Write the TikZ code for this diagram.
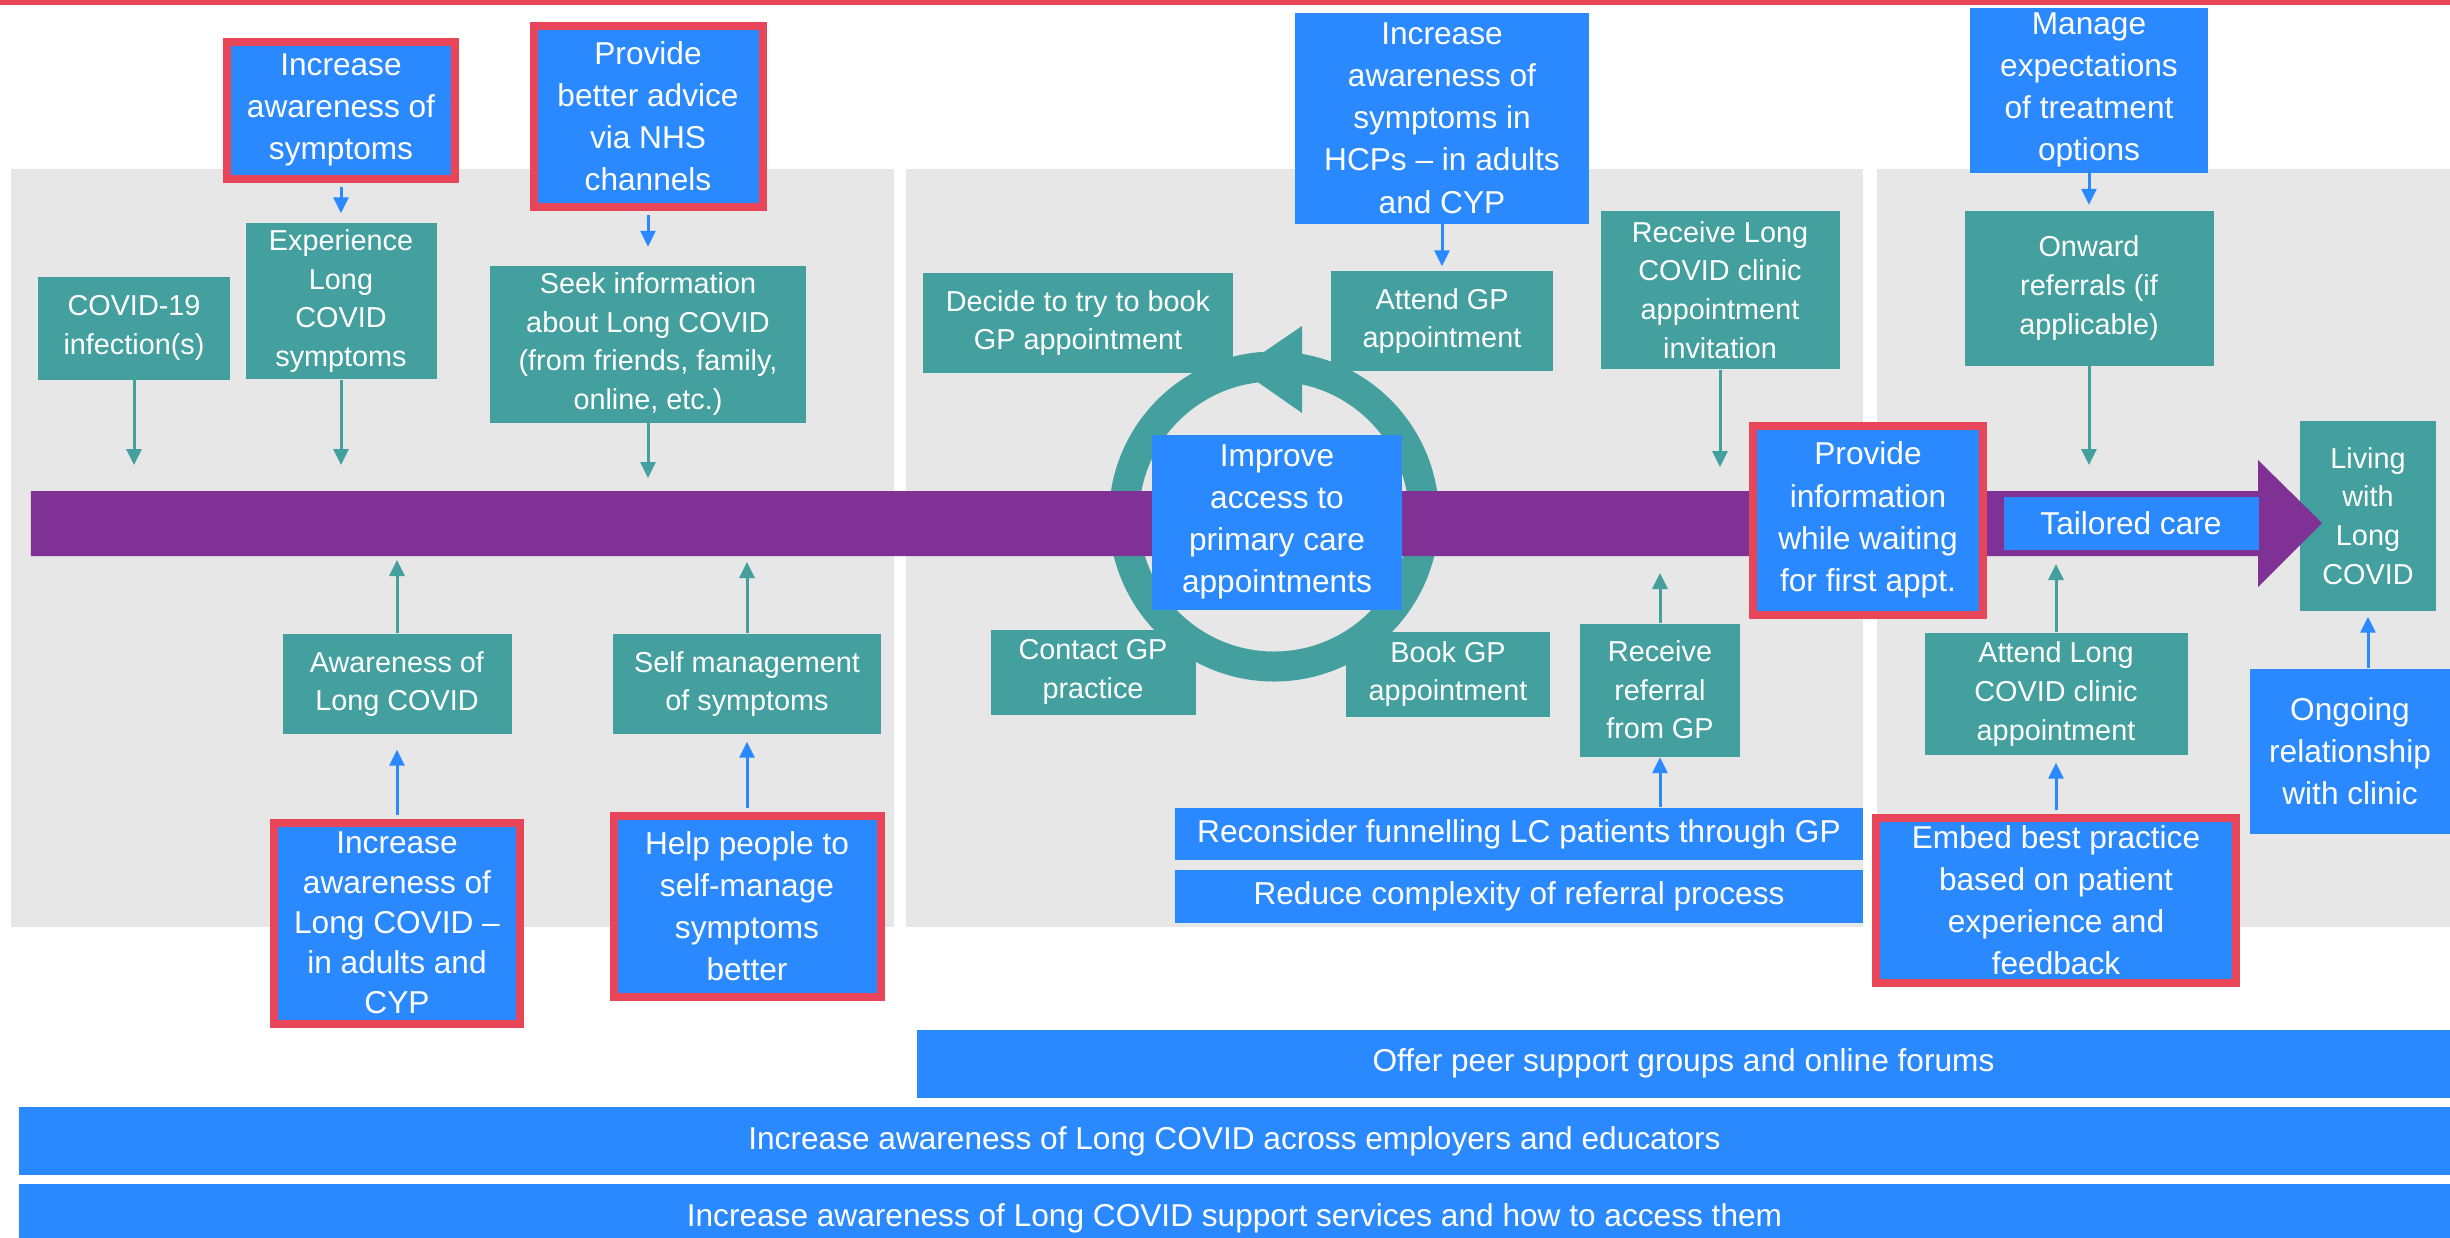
\documentclass[tikz,border=0pt]{standalone}
\usepackage{fontspec}
\setmainfont{Liberation Sans}
\usepackage{tikz}
\usetikzlibrary{arrows.meta, positioning, calc}
\definecolor{panelfill}{RGB}{231,231,231}
\definecolor{stagefill}{RGB}{67,160,158}
\definecolor{actfill}{RGB}{43,137,255}
\definecolor{keyline}{RGB}{232,70,88}
\definecolor{pathfill}{RGB}{128,49,150}

\begin{document}
\begin{tikzpicture}[
  stagebox/.style={fill=stagefill, text=white, inner sep=0pt, align=center,
                   font=\fontsize{8.2}{11}\selectfont},
  actbox/.style={fill=actfill, text=white, inner sep=0pt, align=center,
                 font=\fontsize{9}{12}\selectfont},
  keybox/.style={actbox, draw=keyline, line width=0.08cm},
  panelbg/.style={fill=panelfill},
  stagearrow/.style={-{Triangle[length=0.16cm, width=0.15cm]},
                     line width=0.03cm, draw=stagefill},
  actarrow/.style={-{Triangle[length=0.16cm, width=0.15cm]},
                   line width=0.03cm, draw=actfill},
]
\clip (0,0) rectangle (24.5,-12.37);

% =================================================================
%  BACKGROUND — TOP RULE AND THREE STAGE PANELS
% =================================================================
\fill[keyline] (0,0) rectangle (24.5,-0.05);
\fill[panelbg] (0.11,-1.69) rectangle (8.94,-9.27);
\fill[panelbg] (9.06,-1.69) rectangle (18.63,-9.27);
\fill[panelbg] (18.77,-1.69) rectangle (24.5,-9.27);

% primary care cycle
\draw[stagefill, line width=0.30cm] (12.74,-5.165) circle (1.50);
\fill[stagefill] (13.02,-3.26) -- (13.02,-4.13) -- (12.39,-3.69) -- cycle;

\node[stagebox, minimum width=1.36cm, minimum height=1.90cm] (living)
  at (23.68,-5.16) {Living\\with\\Long\\COVID};

% =================================================================
%  PATIENT JOURNEY BAND
% =================================================================
\fill[pathfill] (0.31,-4.91) -- (22.58,-4.91) -- (22.58,-4.60)
  -- (23.22,-5.23) -- (22.58,-5.87) -- (22.58,-5.56) -- (0.31,-5.56) -- cycle;
\coordinate (bandtop) at (0.31,-4.91);
\coordinate (bandbot) at (0.31,-5.56);

% =================================================================
%  STAGE 1 — BEFORE PRIMARY CARE
% =================================================================
\node[keybox, minimum width=2.28cm, minimum height=1.37cm] (sympt)
  at (3.41,-1.10) {Increase\\awareness of\\symptoms};
\node[keybox, minimum width=2.29cm, minimum height=1.81cm] (nhs)
  at (6.48,-1.16) {Provide\\better advice\\via NHS\\channels};

\node[stagebox, minimum width=1.92cm, minimum height=1.03cm] (infection)
  at (1.34,-3.28) {COVID-19\\infection(s)};
\node[stagebox, minimum width=1.91cm, minimum height=1.56cm] (experience)
  at (3.41,-3.01) {Experience\\Long\\COVID\\symptoms};
\node[stagebox, minimum width=3.16cm, minimum height=1.57cm] (seekinfo)
  at (6.48,-3.44) {Seek information\\about Long COVID\\(from friends, family,\\online, etc.)};

\node[stagebox, minimum width=2.29cm, minimum height=1.00cm] (awareLC)
  at (3.97,-6.84) {Awareness of\\Long COVID};
\node[stagebox, minimum width=2.68cm, minimum height=1.00cm] (selfmgmt)
  at (7.47,-6.84) {Self management\\of symptoms};

\node[keybox, minimum width=2.46cm, minimum height=2.01cm,
      font=\fontsize{9}{11.4}\selectfont] (incLC)
  at (3.97,-9.23) {Increase\\awareness of\\Long COVID --\\in adults and\\CYP};
\node[keybox, minimum width=2.67cm, minimum height=1.81cm] (helpself)
  at (7.47,-9.06) {Help people to\\self-manage\\symptoms\\better};

% =================================================================
%  STAGE 2 — PRIMARY CARE
% =================================================================
\node[actbox, minimum width=2.94cm, minimum height=2.11cm] (hcp)
  at (14.42,-1.18) {Increase\\awareness of\\symptoms in\\HCPs -- in adults\\and CYP};

\node[stagebox, minimum width=3.10cm, minimum height=1.00cm] (decide)
  at (10.78,-3.23) {Decide to try to book\\GP appointment};
\node[stagebox, minimum width=2.22cm, minimum height=1.00cm] (attendgp)
  at (14.42,-3.21) {Attend GP\\appointment};
\node[stagebox, minimum width=2.05cm, minimum height=0.85cm] (contact)
  at (10.93,-6.72) {Contact GP\\practice};
\node[stagebox, minimum width=2.04cm, minimum height=0.85cm] (bookgp)
  at (14.48,-6.74) {Book GP\\appointment};

\node[actbox, minimum width=2.50cm, minimum height=1.75cm] (improve)
  at (12.77,-5.22) {Improve\\access to\\primary care\\appointments};

\node[stagebox, minimum width=2.39cm, minimum height=1.58cm] (invite)
  at (17.20,-2.90) {Receive Long\\COVID clinic\\appointment\\invitation};
\node[stagebox, minimum width=1.60cm, minimum height=1.33cm] (referral)
  at (16.60,-6.90) {Receive\\referral\\from GP};

\node[actbox, minimum width=6.88cm, minimum height=0.52cm] (reconsider)
  at (15.19,-8.34) {Reconsider funnelling LC patients through GP};
\node[actbox, minimum width=6.88cm, minimum height=0.53cm] (reduce)
  at (15.19,-8.965) {Reduce complexity of referral process};

% =================================================================
%  STAGE 3 — LONG COVID CLINIC
% =================================================================
\node[actbox, minimum width=2.38cm, minimum height=1.65cm] (manage)
  at (20.89,-0.90) {Manage\\expectations\\of treatment\\options};
\node[stagebox, minimum width=2.49cm, minimum height=1.55cm] (onward)
  at (20.89,-2.88) {Onward\\referrals (if\\applicable)};

\node[keybox, minimum width=2.30cm, minimum height=1.89cm] (waiting)
  at (18.68,-5.20) {Provide\\information\\while waiting\\for first appt.};
\node[actbox, minimum width=2.55cm, minimum height=0.53cm] (tailored)
  at (21.31,-5.23) {Tailored care};

\node[stagebox, minimum width=2.63cm, minimum height=1.22cm] (attendlc)
  at (20.56,-6.94) {Attend Long\\COVID clinic\\appointment};
\node[keybox, minimum width=3.60cm, minimum height=1.65cm] (embed)
  at (20.56,-9.00) {Embed best practice\\based on patient\\experience and\\feedback};
\node[actbox, minimum width=2.00cm, minimum height=1.65cm] (ongoing)
  at (23.50,-7.51) {Ongoing\\relationship\\with clinic};

% =================================================================
%  ACROSS THE PATHWAY
% =================================================================
\node[actbox, minimum width=15.33cm, minimum height=0.68cm] (peer)
  at (16.835,-10.635) {Offer peer support groups and online forums};
\node[actbox, minimum width=24.31cm, minimum height=0.68cm] (employers)
  at (12.345,-11.41) {Increase awareness of Long COVID across employers and educators};
\node[actbox, minimum width=24.31cm, minimum height=0.68cm] (services)
  at (12.345,-12.18) {Increase awareness of Long COVID support services and how to access them};

% =================================================================
%  ARROWS
% =================================================================
\draw[actarrow, shorten <=0.04cm, shorten >=0.09cm] (sympt) -- (experience);
\draw[actarrow, shorten <=0.04cm, shorten >=0.18cm] (nhs) -- (seekinfo);
\draw[stagearrow, shorten >=0.26cm] (infection) -- (infection |- bandtop);
\draw[stagearrow, shorten >=0.26cm] (experience) -- (experience |- bandtop);
\draw[stagearrow, shorten >=0.13cm] (seekinfo) -- (seekinfo |- bandtop);
\draw[stagearrow, shorten >=0.04cm] (awareLC) -- (awareLC |- bandbot);
\draw[stagearrow, shorten >=0.06cm] (selfmgmt) -- (selfmgmt |- bandbot);
\draw[actarrow, shorten <=0.04cm, shorten >=0.15cm] (incLC) -- (awareLC);
\draw[actarrow, shorten <=0.04cm, shorten >=0.07cm] (helpself) -- (selfmgmt);

\draw[actarrow, shorten >=0.04cm] (hcp) -- (attendgp);
\draw[stagearrow, shorten >=0.24cm] (invite) -- (invite |- bandtop);
\draw[stagearrow, shorten >=0.17cm] (referral) -- (referral |- bandbot);
\draw[actarrow] (reconsider.north -| referral) -- (referral);

\draw[actarrow, shorten >=0.05cm] (manage) -- (onward);
\draw[stagearrow, shorten >=0.26cm] (onward) -- (onward |- bandtop);
\draw[stagearrow, shorten >=0.08cm] (attendlc) -- (attendlc |- bandbot);
\draw[actarrow, shorten <=0.04cm, shorten >=0.07cm] (embed) -- (attendlc);
\draw[actarrow, shorten >=0.05cm] (ongoing.north -| living) -- (living);

\end{tikzpicture}
\end{document}
